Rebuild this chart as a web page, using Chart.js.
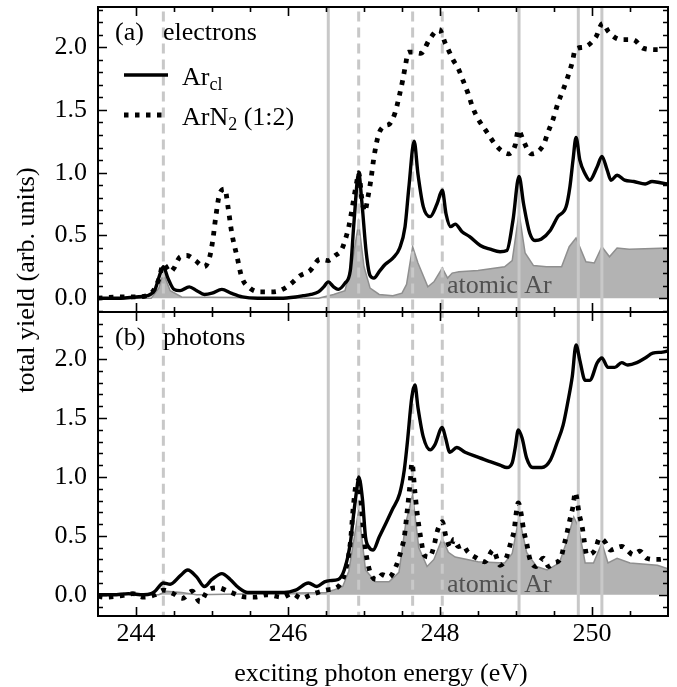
<!DOCTYPE html>
<html>
<head>
<meta charset="utf-8">
<script src="https://cdn.jsdelivr.net/npm/chart.js@4.4.0/dist/chart.umd.min.js"></script>
<style>
  html, body { margin: 0; padding: 0; background: #fff; }
  #wrap { position: relative; width: 677px; height: 687px; }
  #wrap canvas { position: absolute; left: 0; top: 0; }
</style>
</head>
<body>
<div id="wrap">
  <canvas id="panelA" width="677" height="687"></canvas>
  <canvas id="panelB" width="677" height="687"></canvas>
</div>
<script>
// axis ranges and tick labels
var xRange = [243.5, 251];
var xTicks = [244, 246, 248, 250];
var yTicks = [0.0, 0.5, 1.0, 1.5, 2.0];
var yRangeA = [-0.11, 2.32];
var yRangeB = [-0.18, 2.40];

// resonance positions (eV)
var solidLines = [246.53, 249.04, 249.82, 250.13];
var dashedLines = [244.36, 246.93, 247.64, 248.03];

// (a) electrons, Ar clusters
var elecArcl = [[243.5,0.0],[243.8,0.0],[244.0,0.01],[244.15,0.02],[244.25,0.07],[244.32,0.2],[244.36,0.25],
  [244.42,0.16],[244.5,0.07],[244.58,0.06],[244.7,0.09],[244.8,0.06],[244.9,0.03],[245.0,0.04],[245.13,0.07],
  [245.25,0.04],[245.4,0.01],[245.6,0.0],[245.9,0.0],[246.1,0.01],[246.2,0.02],[246.3,0.03],[246.4,0.05],
  [246.47,0.09],[246.53,0.13],[246.6,0.09],[246.66,0.07],[246.75,0.12],[246.82,0.22],[246.87,0.62],[246.93,1.0],
  [246.97,0.78],[247.03,0.36],[247.08,0.18],[247.13,0.16],[247.21,0.22],[247.28,0.27],[247.38,0.32],[247.47,0.4],
  [247.54,0.57],[247.59,0.88],[247.66,1.25],[247.71,0.99],[247.78,0.73],[247.87,0.65],[247.96,0.75],[248.03,0.86],
  [248.08,0.67],[248.14,0.57],[248.2,0.59],[248.29,0.53],[248.39,0.49],[248.53,0.42],[248.66,0.39],[248.79,0.37],
  [248.88,0.38],[248.96,0.62],[249.04,0.97],[249.1,0.75],[249.18,0.52],[249.25,0.46],[249.33,0.47],[249.45,0.54],
  [249.55,0.65],[249.66,0.73],[249.71,0.89],[249.75,1.1],[249.79,1.28],[249.84,1.1],[249.91,0.99],[249.97,0.94],
  [250.07,1.05],[250.13,1.13],[250.2,1.02],[250.25,0.94],[250.33,0.98],[250.43,0.94],[250.55,0.93],[250.7,0.91],
  [250.79,0.93],[250.9,0.92],[251.0,0.91]];

// (a) electrons, ArN2 (1:2)
var elecArN2 = [[243.5,0.0],[243.8,0.01],[244.0,0.01],[244.2,0.04],[244.3,0.15],[244.36,0.27],[244.45,0.21],
  [244.5,0.24],[244.58,0.33],[244.67,0.34],[244.78,0.3],[244.9,0.25],[244.97,0.33],[245.01,0.46],[245.05,0.65],
  [245.1,0.83],[245.17,0.87],[245.21,0.73],[245.26,0.52],[245.33,0.33],[245.39,0.17],[245.5,0.08],[245.63,0.05],
  [245.76,0.05],[245.89,0.06],[246.03,0.11],[246.16,0.18],[246.29,0.22],[246.42,0.31],[246.53,0.3],[246.62,0.34],
  [246.7,0.38],[246.75,0.46],[246.8,0.57],[246.84,0.7],[246.87,0.81],[246.9,0.91],[246.93,1.0],[246.97,0.8],
  [247.01,0.69],[247.05,0.8],[247.09,0.94],[247.13,1.12],[247.19,1.3],[247.26,1.37],[247.34,1.39],[247.41,1.48],
  [247.46,1.6],[247.51,1.74],[247.55,1.87],[247.58,1.96],[247.64,1.96],[247.75,1.95],[247.79,1.98],[247.86,2.06],
  [247.99,2.14],[248.07,2.03],[248.11,1.98],[248.17,1.9],[248.24,1.83],[248.3,1.74],[248.37,1.63],[248.43,1.52],
  [248.5,1.43],[248.62,1.32],[248.72,1.23],[248.8,1.18],[248.9,1.15],[248.99,1.22],[249.03,1.34],[249.1,1.25],
  [249.2,1.15],[249.36,1.22],[249.42,1.32],[249.49,1.43],[249.55,1.55],[249.62,1.66],[249.68,1.76],[249.74,1.88],
  [249.78,1.98],[249.89,2.0],[250.05,2.08],[250.14,2.19],[250.22,2.12],[250.38,2.06],[250.54,2.06],[250.68,1.99],
  [250.87,1.98],[250.92,1.99]];

// (a) electrons, atomic Ar
var elecAtomic = [[243.5,0.0],[244.2,0.0],[244.3,0.08],[244.36,0.2],[244.45,0.06],[244.6,0.01],[246.4,0.0],
  [246.6,0.03],[246.75,0.06],[246.85,0.3],[246.93,0.6],[247.0,0.25],[247.08,0.08],[247.2,0.03],[247.38,0.02],
  [247.5,0.04],[247.56,0.11],[247.64,0.41],[247.71,0.28],[247.84,0.09],[247.92,0.13],[248.03,0.24],[248.1,0.16],
  [248.16,0.2],[248.25,0.21],[248.5,0.22],[248.85,0.25],[248.95,0.3],[249.04,0.68],[249.12,0.36],[249.23,0.26],
  [249.4,0.25],[249.6,0.25],[249.7,0.41],[249.79,0.48],[249.92,0.29],[250.03,0.28],[250.13,0.41],[250.23,0.33],
  [250.33,0.4],[250.49,0.39],[251.0,0.4]];

// (b) photons, Ar clusters
var photArcl = [[243.5,0.0],[243.7,0.0],[243.9,0.01],[244.1,0.0],[244.2,0.01],[244.25,0.03],[244.36,0.1],
  [244.45,0.09],[244.58,0.16],[244.68,0.21],[244.8,0.15],[244.9,0.07],[245.0,0.13],[245.13,0.18],[245.24,0.13],
  [245.35,0.06],[245.47,0.02],[245.7,0.02],[245.95,0.02],[246.1,0.04],[246.27,0.1],[246.38,0.07],[246.48,0.11],
  [246.55,0.12],[246.66,0.13],[246.74,0.21],[246.82,0.44],[246.87,0.72],[246.91,0.92],[246.93,1.0],[246.98,0.81],
  [247.02,0.49],[247.07,0.4],[247.12,0.38],[247.2,0.49],[247.29,0.61],[247.37,0.72],[247.47,0.86],[247.53,1.06],
  [247.57,1.29],[247.63,1.68],[247.67,1.78],[247.71,1.59],[247.78,1.34],[247.87,1.23],[247.93,1.27],[248.03,1.42],
  [248.07,1.34],[248.13,1.21],[248.22,1.25],[248.33,1.21],[248.49,1.17],[248.66,1.13],[248.79,1.1],[248.88,1.08],
  [248.95,1.12],[248.99,1.25],[249.03,1.4],[249.08,1.33],[249.14,1.16],[249.22,1.08],[249.34,1.08],[249.45,1.14],
  [249.54,1.29],[249.62,1.44],[249.68,1.63],[249.74,1.85],[249.79,2.12],[249.84,1.99],[249.91,1.82],[249.97,1.82],
  [250.07,1.97],[250.13,2.01],[250.21,1.93],[250.3,1.93],[250.39,1.97],[250.47,1.95],[250.59,1.97],[250.7,2.01],
  [250.8,2.05],[250.93,2.06],[251.0,2.07]];

// (b) photons, ArN2 (1:2)
var photArN2 = [[243.5,-0.01],[243.57,-0.02],[243.79,-0.01],[243.96,0.01],[244.1,-0.02],[244.25,0.0],[244.36,0.04],
  [244.49,0.01],[244.61,-0.03],[244.74,0.03],[244.84,-0.06],[244.95,0.04],[245.08,0.06],[245.21,0.03],[245.46,-0.02],
  [245.57,-0.02],[245.72,0.0],[245.93,-0.02],[246.05,0.01],[246.18,-0.03],[246.3,0.0],[246.5,0.04],[246.66,0.07],
  [246.75,0.19],[246.82,0.44],[246.86,0.75],[246.9,0.95],[246.93,0.97],[246.97,0.72],[247.0,0.49],[247.04,0.3],
  [247.11,0.15],[247.17,0.13],[247.24,0.17],[247.33,0.15],[247.42,0.24],[247.49,0.38],[247.53,0.49],[247.57,0.72],
  [247.61,0.97],[247.63,1.12],[247.67,0.87],[247.7,0.69],[247.75,0.47],[247.79,0.34],[247.86,0.32],[247.92,0.41],
  [247.96,0.53],[248.03,0.62],[248.08,0.49],[248.14,0.4],[248.18,0.47],[248.24,0.41],[248.3,0.42],[248.37,0.36],
  [248.46,0.32],[248.59,0.28],[248.7,0.38],[248.79,0.25],[248.87,0.31],[248.93,0.44],[248.97,0.53],[249.03,0.78],
  [249.07,0.68],[249.1,0.55],[249.14,0.44],[249.18,0.31],[249.26,0.24],[249.36,0.31],[249.43,0.24],[249.5,0.27],
  [249.58,0.3],[249.64,0.44],[249.71,0.64],[249.75,0.75],[249.78,0.87],[249.8,0.82],[249.83,0.69],[249.87,0.58],
  [249.9,0.45],[249.93,0.34],[250.04,0.38],[250.1,0.48],[250.17,0.45],[250.24,0.38],[250.39,0.41],[250.46,0.38],
  [250.54,0.34],[250.63,0.37],[250.72,0.31],[250.87,0.3],[251.0,0.31]];

// (b) photons, atomic Ar
var photAtomic = [[243.5,0.0],[244.3,0.0],[244.4,0.03],[244.6,0.02],[244.8,0.0],[246.5,0.02],[246.6,0.04],
  [246.72,0.07],[246.8,0.2],[246.93,0.72],[247.02,0.21],[247.15,0.11],[247.33,0.11],[247.46,0.19],[247.55,0.61],
  [247.64,0.85],[247.72,0.4],[247.83,0.24],[247.92,0.3],[248.03,0.48],[248.11,0.36],[248.2,0.32],[248.5,0.28],
  [248.85,0.27],[248.95,0.35],[249.04,0.66],[249.14,0.36],[249.27,0.24],[249.41,0.21],[249.57,0.27],[249.66,0.44],
  [249.76,0.66],[249.82,0.58],[249.91,0.27],[250.02,0.27],[250.13,0.44],[250.21,0.27],[250.33,0.31],[250.5,0.27],
  [250.86,0.25],[251.0,0.22]];

var SERIF = '"Liberation Serif", "Times New Roman", serif';
var FONT = '26px ' + SERIF;

function toPts(arr) {
  return arr.map(function(p) { return {x: p[0], y: p[1]}; });
}

function lineSets(yRange) {
  var sets = [];
  solidLines.concat(dashedLines).forEach(function(e, i) {
    sets.push({
      data: [{x: e, y: yRange[0] - 1}, {x: e, y: yRange[1] + 1}],
      borderColor: '#c8c8c8',
      borderWidth: 3,
      borderDash: i < solidLines.length ? [] : [10, 6],
      pointRadius: 0,
      fill: false,
      order: 3
    });
  });
  return sets;
}

// frame with inward ticks on all sides
var framePlugin = {
  id: 'frame',
  afterDraw: function(chart) {
    var ctx = chart.ctx, a = chart.chartArea;
    var x = chart.scales.x, y = chart.scales.y;
    ctx.save();
    ctx.strokeStyle = '#000';
    ctx.lineWidth = 1.6;
    ctx.beginPath();
    var i, v, px, py, len;
    for (i = 1; i < 15; i++) {
      v = xRange[0] + i * 0.5;
      px = Math.round(x.getPixelForValue(v)) + 0.5;
      len = (v % 2 === 0) ? 9 : 5;
      ctx.moveTo(px, a.bottom); ctx.lineTo(px, a.bottom - len);
      ctx.moveTo(px, a.top); ctx.lineTo(px, a.top + len);
    }
    for (i = -2; i <= 24; i++) {
      v = i / 10;
      if (v <= y.min || v >= y.max) continue;
      py = Math.round(y.getPixelForValue(v)) + 0.5;
      len = (i % 5 === 0) ? 9 : 5;
      ctx.moveTo(a.left, py); ctx.lineTo(a.left + len, py);
      ctx.moveTo(a.right, py); ctx.lineTo(a.right - len, py);
    }
    ctx.stroke();
    ctx.lineWidth = 2;
    ctx.strokeRect(a.left, a.top, a.right - a.left, a.bottom - a.top);
    ctx.restore();
  }
};

// panel labels, legend, "atomic Ar" and axis titles
var textPlugin = {
  id: 'texts',
  afterDraw: function(chart, args, opts) {
    var ctx = chart.ctx;
    ctx.save();
    ctx.font = FONT;
    ctx.fillStyle = '#000';
    ctx.textBaseline = 'alphabetic';
    ctx.textAlign = 'left';
    ctx.fillText(opts.tag, 115, opts.tagY);
    ctx.fillText(opts.name, 163, opts.tagY);
    ctx.fillStyle = '#505050';
    ctx.fillText('atomic Ar', 447, opts.atomicY);

    if (opts.legend) {
      var ds = chart.data.datasets;
      [[ds[ds.length - 1], 75, 'Ar', 'cl', ''], [ds[ds.length - 2], 115, 'ArN', '2', ' (1:2)']].forEach(function(it) {
        var d = it[0];
        ctx.strokeStyle = d.borderColor;
        ctx.lineWidth = d.borderWidth;
        ctx.setLineDash(d.borderDash || []);
        ctx.beginPath();
        ctx.moveTo(124, it[1]); ctx.lineTo(168, it[1]);
        ctx.stroke();
        ctx.setLineDash([]);
        ctx.fillStyle = '#000';
        ctx.font = FONT;
        var base = it[1] + 10;
        ctx.fillText(it[2], 182, base);
        var w = ctx.measureText(it[2]).width;
        ctx.font = '18px ' + SERIF;
        ctx.fillText(it[3], 182 + w, base + 5);
        var w2 = ctx.measureText(it[3]).width;
        ctx.font = FONT;
        ctx.fillText(it[4], 182 + w + w2, base);
      });
    }

    if (opts.titles) {
      ctx.fillStyle = '#000';
      ctx.font = FONT;
      ctx.textAlign = 'center';
      ctx.fillText('exciting photon energy (eV)', 381, 681);
      ctx.translate(27, 280);
      ctx.rotate(-Math.PI / 2);
      ctx.textBaseline = 'middle';
      ctx.fillText('total yield (arb. units)', 0, 0);
    }
    ctx.restore();
  }
};

function buildPanel(id, yRange, cl, n2, atomic, padding, showX, texts) {
  var datasets = [{
    data: toPts(atomic),
    borderColor: '#8f8f8f',
    backgroundColor: '#b3b3b3',
    borderWidth: 1.5,
    pointRadius: 0,
    fill: 'origin',
    tension: 0,
    order: 4
  }].concat(lineSets(yRange)).concat([{
    data: toPts(n2),
    borderColor: '#000',
    borderWidth: 4.8,
    borderDash: [4.5, 6.5],
    pointRadius: 0,
    fill: false,
    cubicInterpolationMode: 'monotone',
    order: 2
  }, {
    data: toPts(cl),
    borderColor: '#000',
    borderWidth: 3.4,
    pointRadius: 0,
    fill: false,
    cubicInterpolationMode: 'monotone',
    borderJoinStyle: 'round',
    order: 1
  }]);

  return new Chart(document.getElementById(id), {
    type: 'line',
    data: {datasets: datasets},
    options: {
      responsive: false,
      animation: false,
      events: [],
      layout: {padding: padding},
      plugins: {
        legend: {display: false},
        tooltip: {enabled: false},
        texts: texts
      },
      scales: {
        x: {
          type: 'linear',
          min: xRange[0],
          max: xRange[1],
          display: showX,
          grid: {display: false, drawTicks: false},
          border: {display: false},
          ticks: {font: {family: SERIF, size: 26}, color: '#000', padding: 3},
          afterBuildTicks: function(s) { s.ticks = xTicks.map(function(v) { return {value: v}; }); },
          afterFit: function(s) {
            if (showX) s.height = 71;
            s.paddingLeft = 0; s.paddingRight = 0;
          }
        },
        y: {
          type: 'linear',
          min: yRange[0],
          max: yRange[1],
          grid: {display: false, drawTicks: false},
          border: {display: false},
          ticks: {
            font: {family: SERIF, size: 26},
            color: '#000',
            padding: 11,
            callback: function(v) { return v.toFixed(1); }
          },
          afterBuildTicks: function(s) { s.ticks = yTicks.map(function(v) { return {value: v}; }); },
          afterFit: function(s) {
            s.width = 98;
            s.paddingTop = 0; s.paddingBottom = 0;
          }
        }
      }
    },
    plugins: [framePlugin, textPlugin]
  });
}

buildPanel('panelA', yRangeA, elecArcl, elecArN2, elecAtomic,
  {left: 0, top: 7, right: 9, bottom: 375}, false,
  {tag: '(a)', name: 'electrons', tagY: 40, atomicY: 293, legend: true, titles: false});

buildPanel('panelB', yRangeB, photArcl, photArN2, photAtomic,
  {left: 0, top: 312, right: 9, bottom: 0}, true,
  {tag: '(b)', name: 'photons', tagY: 345, atomicY: 592, legend: false, titles: true});
</script>
</body>
</html>
